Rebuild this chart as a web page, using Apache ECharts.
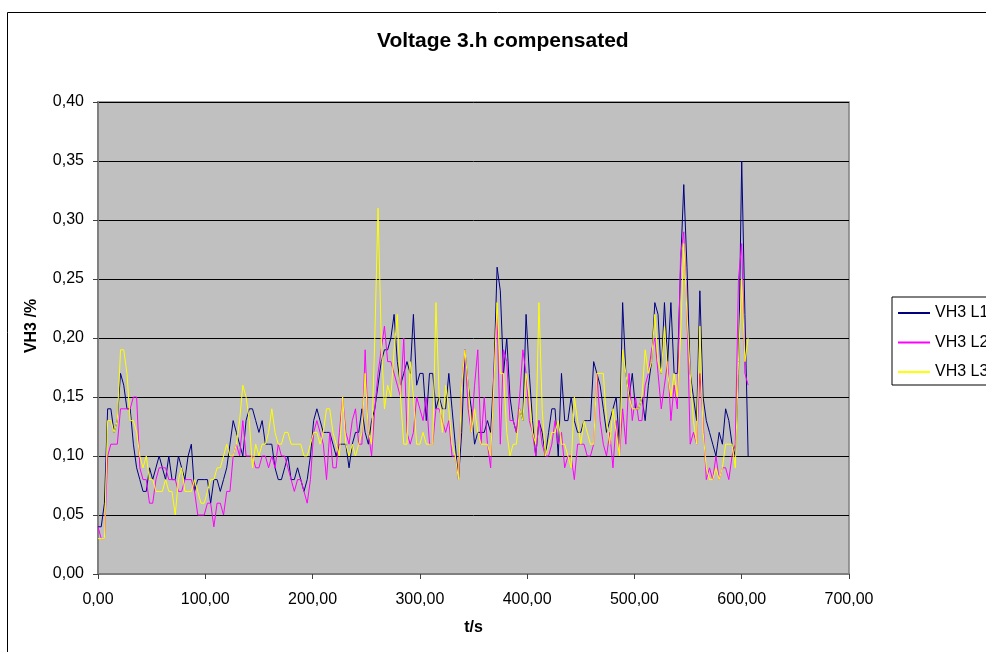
<!DOCTYPE html>
<html>
<head>
<meta charset="utf-8">
<title>Voltage 3.h compensated</title>
<script src="https://cdn.jsdelivr.net/npm/echarts@6.0.0/dist/echarts.min.js"></script>
<style>
  html, body { margin: 0; padding: 0; background: #fff; }
  #chart { width: 986px; height: 652px; }
</style>
</head>
<body>
<div id="chart"></div>
<script>
// time stamps (s)
const times = [
  0, 3, 6, 9, 12, 15, 18, 21, 24, 27, 30, 33, 36, 39, 42, 45, 48, 51, 54, 57,
  60, 63, 66, 69, 72, 75, 78, 81, 84, 87, 90, 93, 96, 99, 102, 105, 108, 111, 114, 117,
  120, 123, 126, 129, 132, 135, 138, 141, 144, 147, 150, 153, 156, 159, 162, 165, 168, 171, 174, 177,
  180, 183, 186, 189, 192, 195, 198, 201, 204, 207, 210, 213, 216, 219, 222, 225, 228, 231, 234, 237,
  240, 243, 246, 249, 252, 255, 258, 261, 264, 267, 270, 273, 276, 279, 282, 285, 288, 291, 294, 297,
  300, 303, 306, 309, 312, 315, 318, 321, 324, 327, 330, 333, 336, 339, 342, 345, 348, 351, 354, 357,
  360, 363, 366, 369, 372, 375, 378, 381, 384, 387, 390, 393, 396, 399, 402, 405, 408, 411, 414, 417,
  420, 423, 426, 429, 432, 435, 438, 441, 444, 447, 450, 453, 456, 459, 462, 465, 468, 471, 474, 477,
  480, 483, 486, 489, 492, 495, 498, 501, 504, 507, 510, 513, 516, 519, 522, 525, 528, 531, 534, 537,
  540, 543, 546, 549, 552, 555, 558, 561, 564, 567, 570, 573, 576, 579, 582, 585, 588, 591, 594, 597,
  600, 603, 606
];

// VH3 L1 (%)
const vh3L1 = [
  0.04, 0.04, 0.06, 0.14, 0.14, 0.12, 0.13, 0.17, 0.16, 0.14, 0.14, 0.11, 0.09, 0.08, 0.07, 0.07, 0.09, 0.08, 0.09, 0.10,
  0.09, 0.08, 0.10, 0.08, 0.08, 0.10, 0.09, 0.08, 0.10, 0.11, 0.07, 0.08, 0.08, 0.08, 0.08, 0.06, 0.08, 0.08, 0.07, 0.08,
  0.09, 0.11, 0.13, 0.12, 0.11, 0.10, 0.13, 0.14, 0.14, 0.13, 0.12, 0.13, 0.11, 0.11, 0.11, 0.09, 0.08, 0.08, 0.09, 0.10,
  0.08, 0.08, 0.09, 0.08, 0.07, 0.08, 0.10, 0.13, 0.14, 0.13, 0.12, 0.12, 0.12, 0.11, 0.10, 0.11, 0.11, 0.11, 0.09, 0.11,
  0.12, 0.12, 0.14, 0.12, 0.11, 0.13, 0.14, 0.16, 0.18, 0.19, 0.19, 0.20, 0.22, 0.18, 0.16, 0.17, 0.18, 0.17, 0.22, 0.16,
  0.17, 0.17, 0.13, 0.17, 0.17, 0.14, 0.15, 0.14, 0.14, 0.17, 0.14, 0.11, 0.08, 0.12, 0.19, 0.16, 0.14, 0.11, 0.12, 0.12,
  0.12, 0.13, 0.12, 0.17, 0.26, 0.24, 0.17, 0.20, 0.15, 0.13, 0.12, 0.14, 0.13, 0.22, 0.17, 0.13, 0.10, 0.13, 0.12, 0.10,
  0.12, 0.14, 0.14, 0.10, 0.17, 0.13, 0.13, 0.15, 0.13, 0.12, 0.12, 0.13, 0.13, 0.13, 0.18, 0.17, 0.16, 0.14, 0.12, 0.13,
  0.14, 0.15, 0.11, 0.23, 0.17, 0.15, 0.17, 0.14, 0.14, 0.15, 0.13, 0.16, 0.18, 0.23, 0.22, 0.17, 0.23, 0.18, 0.23, 0.17,
  0.17, 0.26, 0.33, 0.26, 0.17, 0.15, 0.13, 0.24, 0.15, 0.13, 0.12, 0.11, 0.10, 0.12, 0.11, 0.14, 0.13, 0.11, 0.10, 0.17,
  0.35, 0.22, 0.10
];

// VH3 L2 (%)
const vh3L2 = [
  0.04, 0.03, 0.03, 0.10, 0.11, 0.11, 0.11, 0.14, 0.14, 0.14, 0.14, 0.15, 0.15, 0.09, 0.08, 0.08, 0.06, 0.06, 0.08, 0.09,
  0.09, 0.09, 0.08, 0.08, 0.08, 0.07, 0.07, 0.08, 0.08, 0.08, 0.07, 0.05, 0.05, 0.05, 0.06, 0.06, 0.04, 0.06, 0.06, 0.05,
  0.07, 0.07, 0.10, 0.11, 0.10, 0.13, 0.10, 0.10, 0.10, 0.09, 0.09, 0.10, 0.10, 0.09, 0.10, 0.09, 0.11, 0.10, 0.10, 0.09,
  0.08, 0.07, 0.08, 0.08, 0.07, 0.06, 0.08, 0.12, 0.13, 0.12, 0.11, 0.08, 0.12, 0.09, 0.09, 0.12, 0.15, 0.12, 0.11, 0.13,
  0.14, 0.11, 0.11, 0.19, 0.12, 0.10, 0.14, 0.17, 0.19, 0.21, 0.18, 0.18, 0.17, 0.16, 0.15, 0.20, 0.12, 0.11, 0.12, 0.15,
  0.14, 0.13, 0.15, 0.11, 0.11, 0.14, 0.14, 0.13, 0.12, 0.13, 0.10, 0.10, 0.08, 0.16, 0.19, 0.14, 0.12, 0.16, 0.19, 0.11,
  0.15, 0.11, 0.09, 0.17, 0.22, 0.11, 0.19, 0.18, 0.13, 0.13, 0.12, 0.15, 0.19, 0.17, 0.13, 0.12, 0.10, 0.13, 0.11, 0.10,
  0.10, 0.11, 0.13, 0.11, 0.12, 0.09, 0.10, 0.10, 0.08, 0.11, 0.11, 0.11, 0.10, 0.10, 0.11, 0.17, 0.13, 0.11, 0.10, 0.12,
  0.09, 0.13, 0.10, 0.14, 0.11, 0.17, 0.13, 0.15, 0.13, 0.13, 0.16, 0.17, 0.19, 0.20, 0.17, 0.14, 0.16, 0.18, 0.13, 0.16,
  0.14, 0.27, 0.29, 0.22, 0.11, 0.12, 0.11, 0.17, 0.13, 0.08, 0.09, 0.08, 0.10, 0.08, 0.09, 0.09, 0.08, 0.10, 0.11, 0.25,
  0.28, 0.17, 0.16
];

// VH3 L3 (%)
const vh3L3 = [
  0.03, 0.03, 0.03, 0.13, 0.13, 0.12, 0.13, 0.19, 0.19, 0.17, 0.13, 0.13, 0.12, 0.10, 0.09, 0.10, 0.08, 0.08, 0.07, 0.07,
  0.07, 0.08, 0.07, 0.07, 0.05, 0.08, 0.09, 0.07, 0.07, 0.07, 0.08, 0.07, 0.06, 0.06, 0.07, 0.08, 0.08, 0.09, 0.09, 0.10,
  0.11, 0.10, 0.10, 0.11, 0.13, 0.16, 0.15, 0.13, 0.09, 0.11, 0.10, 0.11, 0.11, 0.12, 0.14, 0.12, 0.11, 0.11, 0.12, 0.12,
  0.11, 0.11, 0.11, 0.11, 0.10, 0.10, 0.11, 0.12, 0.12, 0.11, 0.12, 0.14, 0.14, 0.12, 0.11, 0.10, 0.15, 0.11, 0.10, 0.11,
  0.10, 0.11, 0.12, 0.17, 0.12, 0.11, 0.20, 0.31, 0.20, 0.14, 0.16, 0.15, 0.19, 0.22, 0.15, 0.11, 0.11, 0.18, 0.15, 0.11,
  0.11, 0.12, 0.11, 0.11, 0.11, 0.23, 0.15, 0.12, 0.16, 0.14, 0.11, 0.10, 0.08, 0.16, 0.19, 0.16, 0.12, 0.14, 0.12, 0.11,
  0.11, 0.11, 0.10, 0.16, 0.23, 0.17, 0.17, 0.12, 0.10, 0.11, 0.11, 0.14, 0.13, 0.17, 0.15, 0.12, 0.11, 0.23, 0.14, 0.10,
  0.11, 0.12, 0.12, 0.13, 0.11, 0.11, 0.10, 0.09, 0.15, 0.13, 0.11, 0.13, 0.12, 0.11, 0.11, 0.17, 0.17, 0.17, 0.13, 0.11,
  0.14, 0.12, 0.10, 0.19, 0.17, 0.15, 0.14, 0.14, 0.14, 0.15, 0.19, 0.17, 0.18, 0.22, 0.18, 0.17, 0.21, 0.17, 0.15, 0.17,
  0.15, 0.20, 0.28, 0.22, 0.17, 0.13, 0.11, 0.21, 0.12, 0.09, 0.08, 0.08, 0.09, 0.08, 0.09, 0.11, 0.11, 0.11, 0.09, 0.18,
  0.25, 0.18, 0.20
];

const seriesNames = ['VH3 L1', 'VH3 L2', 'VH3 L3'];
const seriesColors = ['#000080', '#FF00FF', '#FFFF00'];

const font = '"Liberation Sans", Arial, sans-serif';
const comma = (v) => v.toFixed(2).replace('.', ',');

const chart = echarts.init(document.getElementById('chart'), null, { renderer: 'canvas' });

const option = {
  animation: false,
  backgroundColor: '#fff',
  textStyle: { fontFamily: font },
  title: {
    text: 'Voltage 3.h compensated',
    left: 377,
    top: 31,
    padding: 0,
    textStyle: { fontFamily: font, fontSize: 21, fontWeight: 'bold', color: '#000' },
  },
  graphic: [{
    type: 'rect',
    left: 5,
    top: 10,
    silent: true,
    shape: { width: 1200, height: 900 },
    style: { fill: 'none', stroke: '#000', lineWidth: 1 },
  }],
  legend: {
    orient: 'vertical',
    left: 892,
    top: 297,
    itemWidth: 32,
    itemHeight: 14,
    itemGap: 13.5,
    padding: [8, 20, 5, 5],
    borderColor: '#000',
    borderWidth: 1,
    backgroundColor: '#fff',
    textStyle: { fontFamily: font, fontSize: 16, color: '#000' },
    data: seriesNames,
  },
  grid: {
    left: 98,
    top: 102,
    right: 137,
    bottom: 78,
    show: true,
    backgroundColor: '#C0C0C0',
    borderColor: '#808080',
    borderWidth: 1.5,
  },
  xAxis: {
    type: 'value',
    min: 0,
    max: 700,
    interval: 100,
    name: 't/s',
    nameLocation: 'middle',
    nameGap: 46,
    nameTextStyle: { fontFamily: font, fontSize: 16, fontWeight: 'bold', color: '#000' },
    axisLine: { lineStyle: { color: '#808080', width: 2 } },
    axisTick: { inside: false, length: 5, lineStyle: { color: '#404040' } },
    axisLabel: { margin: 18, fontFamily: font, fontSize: 16, color: '#000', formatter: comma },
    splitLine: { show: false },
  },
  yAxis: {
    type: 'value',
    min: 0,
    max: 0.4,
    interval: 0.05,
    name: 'VH3 /%',
    nameLocation: 'middle',
    nameRotate: 90,
    nameGap: 58,
    nameTextStyle: {
      fontFamily: font, fontSize: 16, fontWeight: 'bold', color: '#000',
      padding: [0, 0, 0, 24],
    },
    axisLine: { show: true, lineStyle: { color: '#808080', width: 2 } },
    axisTick: { show: true, inside: false, length: 5, lineStyle: { color: '#404040' } },
    axisLabel: { margin: 14, fontFamily: font, fontSize: 16, color: '#000', formatter: comma },
    splitLine: { show: true, lineStyle: { color: '#000', width: 1 } },
  },
  series: [vh3L1, vh3L2, vh3L3].map((vals, k) => ({
    name: seriesNames[k],
    type: 'line',
    symbol: 'none',
    color: seriesColors[k],
    itemStyle: { opacity: 0 },
    lineStyle: { color: seriesColors[k], width: 1 },
    data: times.map((t, i) => [t, vals[i]]),
  })),
};

chart.setOption(option);
</script>
</body>
</html>
